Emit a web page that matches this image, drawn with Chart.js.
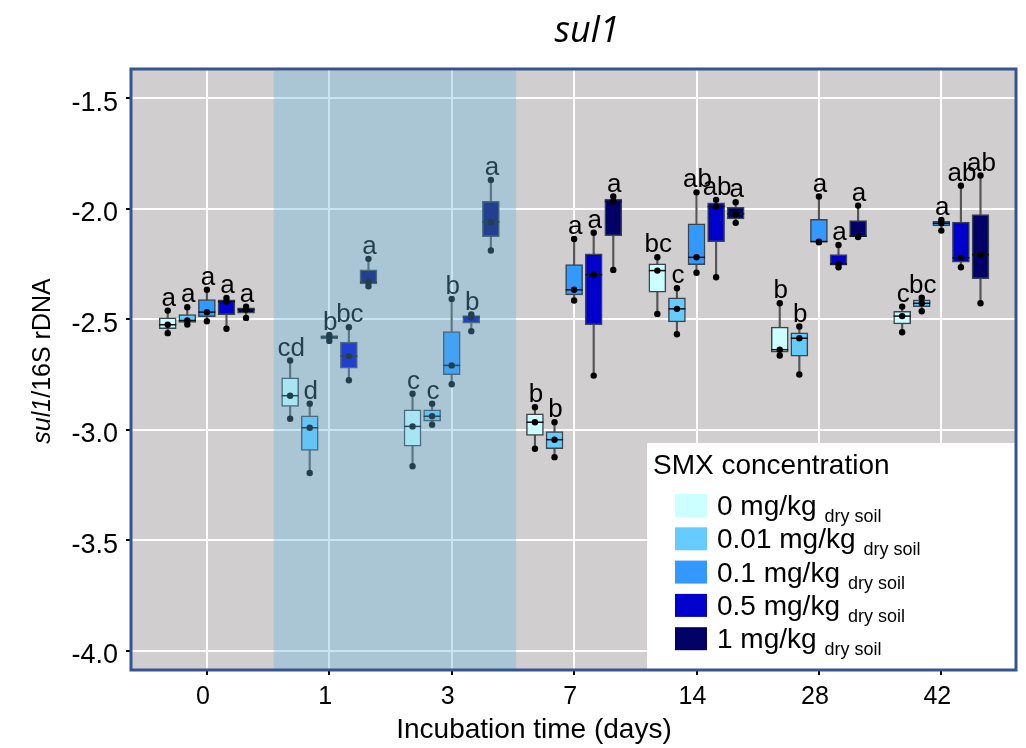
<!DOCTYPE html>
<html>
<head>
<meta charset="utf-8">
<script src="https://cdn.jsdelivr.net/npm/chart.js@4.4.0/dist/chart.umd.min.js"></script>
<style>
  html, body { margin: 0; padding: 0; background: #fff; }
  #wrap { width: 1026px; height: 748px; }
</style>
</head>
<body>
<div id="wrap"><canvas id="chart" width="1026" height="748"></canvas></div>
<script>
// incubation days (x categories) and SMX concentrations (series)
const days = ["0", "1", "3", "7", "14", "28", "42"];
const concLabels = ["0 mg/kg", "0.01 mg/kg", "0.1 mg/kg", "0.5 mg/kg", "1 mg/kg"];
const concColors = ["#ccffff", "#66ccff", "#3399ff", "#0000cc", "#000066"];
const yTicks = [-4.0, -3.5, -3.0, -2.5, -2.0, -1.5];

// box statistics, one row per concentration, one value per day
const mins = [
  [-2.563, -2.950, -3.165, -3.086, -2.476, -2.664, -2.559],
  [-2.524, -3.196, -2.977, -3.124, -2.568, -2.750, -2.464],
  [-2.509, -2.598, -2.794, -2.415, -2.290, -2.152, -2.099],
  [-2.543, -2.776, -2.554, -2.755, -2.310, -2.265, -2.265],
  [-2.494, -2.351, -2.189, -2.277, -2.064, -2.128, -2.428]
];
const q1s = [
  [-2.543, -2.895, -3.074, -3.026, -2.378, -2.649, -2.521],
  [-2.515, -3.094, -2.961, -3.086, -2.512, -2.667, -2.443],
  [-2.488, -2.589, -2.751, -2.390, -2.253, -2.150, -2.078],
  [-2.480, -2.722, -2.518, -2.525, -2.149, -2.256, -2.242],
  [-2.473, -2.340, -2.126, -2.122, -2.046, -2.126, -2.317]
];
const medians = [
  [-2.525, -2.846, -2.985, -2.966, -2.280, -2.638, -2.486],
  [-2.506, -2.991, -2.939, -3.045, -2.453, -2.586, -2.428],
  [-2.468, -2.581, -2.709, -2.367, -2.220, -2.149, -2.066],
  [-2.420, -2.667, -2.491, -2.299, -1.990, -2.250, -2.222],
  [-2.456, -2.333, -2.061, -1.967, -2.024, -2.124, -2.208]
];
const q3s = [
  [-2.494, -2.765, -2.910, -2.928, -2.250, -2.536, -2.464],
  [-2.479, -2.937, -2.910, -3.008, -2.403, -2.562, -2.412],
  [-2.411, -2.574, -2.556, -2.253, -2.069, -2.048, -2.057],
  [-2.412, -2.604, -2.483, -2.204, -1.974, -2.208, -2.061],
  [-2.448, -2.277, -1.967, -1.956, -1.994, -2.054, -2.027]
];
const maxs = [
  [-2.461, -2.687, -2.837, -2.898, -2.220, -2.428, -2.443],
  [-2.446, -2.882, -2.882, -2.966, -2.360, -2.533, -2.403],
  [-2.367, -2.571, -2.408, -2.137, -1.926, -1.945, -2.051],
  [-2.404, -2.536, -2.479, -2.109, -1.960, -2.164, -1.896],
  [-2.443, -2.227, -1.870, -1.945, -1.971, -1.986, -1.850]
];
// significance letters above each box
const letters = [
  ["a", "cd", "c", "b", "bc", "b", "c"],
  ["a", "d", "c", "b", "c", "b", "bc"],
  ["a", "b", "b", "a", "ab", "a", "a"],
  ["a", "bc", "b", "a", "ab", "a", "ab"],
  ["a", "a", "a", "a", "a", "a", "ab"]
];

const boxOffsets = [-0.32, -0.16, 0, 0.16, 0.32];
const shadeRange = [0.546, 2.526];
const FONT = '"Liberation Sans", Arial, sans-serif';

const datasets = [];
concLabels.forEach((label, k) => {
  const xs = days.map((d, i) => i + boxOffsets[k]);
  datasets.push({
    type: "bar",
    label: label + " whisker",
    data: xs.map((x, i) => ({ x: x, y: [mins[k][i], maxs[k][i]] })),
    backgroundColor: "#555555",
    borderWidth: 0,
    barThickness: 1.5,
    grouped: false,
    order: 4,
  });
  datasets.push({
    type: "bar",
    label: label,
    data: xs.map((x, i) => ({ x: x, y: [q1s[k][i], q3s[k][i]] })),
    backgroundColor: concColors[k],
    borderColor: "#3a444e",
    borderWidth: 1.5,
    borderSkipped: false,
    barThickness: 17,
    grouped: false,
    order: 3,
  });
  datasets.push({
    type: "scatter",
    label: label + " median",
    data: xs.map((x, i) => ({ x: x, y: medians[k][i] })),
    pointStyle: "line",
    radius: 8.5,
    borderColor: "#111",
    borderWidth: 1.5,
    order: 2,
  });
  const pts = [];
  xs.forEach((x, i) => {
    pts.push({ x: x, y: mins[k][i] }, { x: x, y: medians[k][i] }, { x: x, y: maxs[k][i] });
  });
  datasets.push({
    type: "scatter",
    label: label + " points",
    data: pts,
    pointStyle: "circle",
    radius: 3.2,
    backgroundColor: "#000",
    borderWidth: 0,
    order: 1,
  });
});

const extras = {
  id: "extras",
  beforeDraw(chart) {
    const { ctx, chartArea: a } = chart;
    ctx.save();
    ctx.fillStyle = "#d0cecf";
    ctx.fillRect(a.left, a.top, a.right - a.left, a.bottom - a.top);
    ctx.restore();
  },
  afterDatasetsDraw(chart) {
    const { ctx, chartArea: a, scales: { x, y } } = chart;
    ctx.save();
    ctx.font = "26px " + FONT;
    ctx.textAlign = "center";
    ctx.textBaseline = "alphabetic";
    ctx.fillStyle = "#000";
    letters.forEach((row, k) => row.forEach((txt, i) => {
      ctx.fillText(txt, x.getPixelForValue(i + boxOffsets[k]) + 1, y.getPixelForValue(maxs[k][i]) - 5);
    }));
    // translucent band over the day 1 and day 3 samples
    const x0 = x.getPixelForValue(shadeRange[0]);
    const x1 = x.getPixelForValue(shadeRange[1]);
    ctx.fillStyle = "rgba(100, 180, 220, 0.35)";
    ctx.fillRect(x0, a.top + 2, x1 - x0, a.bottom - a.top - 2);
    ctx.restore();
  },
  afterDraw(chart) {
    const { ctx, chartArea: a } = chart;
    ctx.save();

    // legend box
    const lx = 647, ly = 443;
    ctx.fillStyle = "#fff";
    ctx.fillRect(lx, ly, a.right - lx, a.bottom - ly);
    ctx.fillStyle = "#000";
    ctx.textAlign = "left";
    ctx.textBaseline = "alphabetic";
    ctx.font = "28px " + FONT;
    ctx.fillText("SMX concentration", 653, 474);
    concLabels.forEach((label, k) => {
      const base = 515 + k * 33.3;
      ctx.fillStyle = concColors[k];
      ctx.fillRect(675, base - 21, 32, 23);
      ctx.fillStyle = "#000";
      ctx.font = "28px " + FONT;
      ctx.fillText(label, 717, base);
      const w = ctx.measureText(label).width;
      ctx.font = "18px " + FONT;
      ctx.fillText("dry soil", 717 + w + 8, base + 7);
    });

    // frame
    ctx.strokeStyle = "#34558f";
    ctx.lineWidth = 3;
    ctx.strokeRect(a.left, a.top, a.right - a.left, a.bottom - a.top);

    // chart title
    ctx.fillStyle = "#000";
    ctx.textAlign = "center";
    ctx.font = 'italic 36px "Open Sans", sans-serif';
    ctx.fillText("sul1", 587, 42);

    // x axis title
    ctx.font = "28px " + FONT;
    ctx.fillText("Incubation time (days)", 534, 738);

    // y axis title, gene name in italics
    ctx.translate(43, 361);
    ctx.rotate(-Math.PI / 2);
    ctx.textAlign = "left";
    ctx.textBaseline = "middle";
    ctx.font = "italic 25px " + FONT;
    const w1 = ctx.measureText("sul1").width;
    ctx.font = "25px " + FONT;
    const w2 = ctx.measureText("/16S rDNA").width;
    const start = -(w1 + w2) / 2;
    ctx.font = "italic 25px " + FONT;
    ctx.fillText("sul1", start, 0);
    ctx.font = "25px " + FONT;
    ctx.fillText("/16S rDNA", start + w1, 0);
    ctx.restore();
  },
};

new Chart(document.getElementById("chart"), {
  type: "scatter",
  data: { datasets: datasets },
  options: {
    responsive: false,
    animation: false,
    layout: { padding: { top: 69, right: 8, left: 0, bottom: 0 } },
    plugins: {
      legend: { display: false },
      tooltip: { enabled: false },
      title: { display: false },
    },
    scales: {
      x: {
        type: "linear",
        min: -0.62,
        max: 6.61,
        offset: false,
        grid: { color: "#ffffff", lineWidth: 2, offset: false, tickColor: "#000", tickLength: 5 },
        border: { display: true, color: "#000" },
        afterBuildTicks: (axis) => { axis.ticks = days.map((d, i) => ({ value: i })); },
        afterFit: (axis) => { axis.height = 78; },
        ticks: {
          callback: (v) => days[v],
          font: { family: FONT, size: 25 },
          color: "#000",
          padding: 7,
          labelOffset: -4,
          maxRotation: 0,
        },
      },
      y: {
        type: "linear",
        min: -4.087,
        max: -1.368,
        grid: { color: "#ffffff", lineWidth: 2, tickColor: "#000", tickLength: 5 },
        border: { display: true, color: "#000" },
        afterBuildTicks: (axis) => { axis.ticks = yTicks.map((v) => ({ value: v })); },
        afterFit: (axis) => { axis.width = 131; },
        ticks: {
          callback: (v) => v.toFixed(1),
          font: { family: FONT, size: 27 },
          color: "#000",
          padding: 8,
          labelOffset: 5,
        },
      },
    },
  },
  plugins: [extras],
});
</script>
</body>
</html>
